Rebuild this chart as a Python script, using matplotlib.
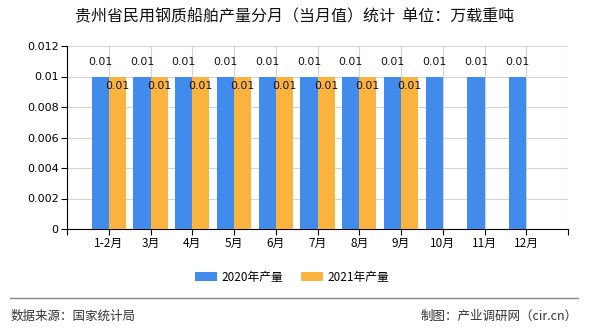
import matplotlib
matplotlib.use("Agg")
import matplotlib.pyplot as plt
import numpy as np

plt.rcParams['font.family'] = ['Noto Sans CJK SC', 'DejaVu Sans']

categories = ["1-2月", "3月", "4月", "5月", "6月", "7月", "8月", "9月", "10月", "11月", "12月"]
prod_2020 = [0.01, 0.01, 0.01, 0.01, 0.01, 0.01, 0.01, 0.01, 0.01, 0.01, 0.01]
prod_2021 = [0.01, 0.01, 0.01, 0.01, 0.01, 0.01, 0.01, 0.01]
yticks = [0, 0.002, 0.004, 0.006, 0.008, 0.01, 0.012]
ytick_labels = ["0", "0.002", "0.004", "0.006", "0.008", "0.01", "0.012"]

title = "贵州省民用钢质船舶产量分月（当月值）统计  单位：万载重吨"
series_names = ["2020年产量", "2021年产量"]
source_text = "数据来源：国家统计局"
credit_text = "制图：产业调研网（cir.cn）"

blue = "#418BED"
orange = "#FBB33F"

fig = plt.figure(figsize=(5.9, 3.3), dpi=100)
ax = fig.add_axes([67/590, (330-229)/330, (568-67)/590, (229-46)/330])

w = 0.41
x20 = np.arange(len(prod_2020))
x21 = np.arange(len(prod_2021))
ax.bar(x20 - w/2, prod_2020, width=w, color=blue, zorder=3, label=series_names[0])
ax.bar(x21 + w/2, prod_2021, width=w, color=orange, zorder=3, label=series_names[1])

for xi, v in zip(x20, prod_2020):
    ax.annotate(f"{v:g}", (xi - w/2, v), xytext=(0, 7), textcoords="offset points",
                ha="center", va="bottom", fontsize=7.8, family="DejaVu Sans", color="#111111", zorder=5)
for xi, v in zip(x21, prod_2021):
    ax.annotate(f"{v:g}", (xi + w/2, v), xytext=(0, -3), textcoords="offset points",
                ha="center", va="top", fontsize=7.8, family="DejaVu Sans", color="#111111", zorder=5)

ax.set_xlim(-1, len(categories))
ax.set_ylim(0, 0.012)
ax.set_yticks(yticks)
ax.set_yticklabels(ytick_labels, family="DejaVu Sans", fontsize=8)

ax.set_xticks(np.arange(-1, len(categories) + 1))
ax.set_xticklabels([""] + categories + [""], fontsize=8.5)

ax.grid(axis="y", color="#d3d3d3", linewidth=0.8, zorder=0)
for xi in range(0, len(categories) + 1):
    ax.axvline(xi, color="#d3d3d3", linewidth=0.8, zorder=0)

for s in ["top", "right"]:
    ax.spines[s].set_visible(False)
ax.spines["left"].set_color("black")
ax.spines["bottom"].set_color("black")
ax.tick_params(axis="y", length=4, width=0.8, pad=2)
ax.tick_params(axis="x", length=4, width=0.8, pad=2)

fig.text(295/590, 1 - 17/330, title, ha="center", va="center", fontsize=11.5, color="#111111")

handles, labels = ax.get_legend_handles_labels()
fig.legend(handles, labels, loc="center", bbox_to_anchor=(292/590, 1 - 277/330), ncol=2,
           frameon=False, fontsize=8.5, handlelength=1.9, handleheight=0.8, columnspacing=1.5,
           handletextpad=0.35)

fig.add_artist(plt.Line2D([10/590, 578/590], [1 - 298/330, 1 - 298/330], color="#888888", linewidth=1.0))
fig.text(11/590, 1 - 316/330, source_text, ha="left", va="center", fontsize=9, color="#333333")
fig.text(578/590, 1 - 316/330, credit_text, ha="right", va="center", fontsize=9, color="#333333")

fig.savefig("out.png", dpi=100)
